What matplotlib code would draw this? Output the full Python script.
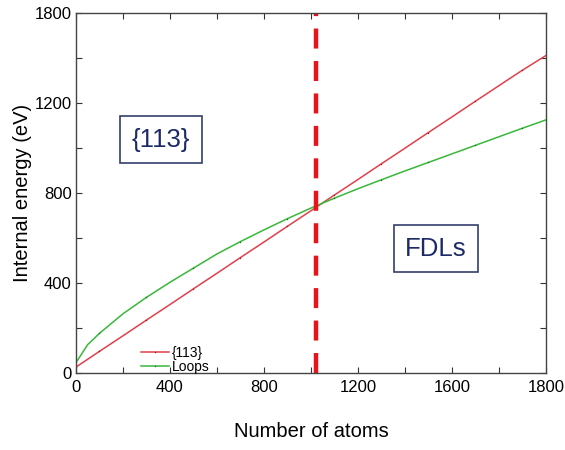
import numpy as np
import matplotlib
matplotlib.use("Agg")
import matplotlib.pyplot as plt

plt.rcParams["font.family"] = ["Liberation Sans", "DejaVu Sans"]

# ---- data ----
atoms = [0, 50, 100, 200, 300, 400, 500, 600, 700, 800, 900, 1000,
         1100, 1200, 1300, 1400, 1500, 1600, 1700, 1800, 1900, 2000]
energy_113 = [25, 60, 95, 164, 234, 303, 373, 442, 512, 581, 651, 720,
              790, 859, 929, 998, 1068, 1137, 1207, 1276, 1345, 1410]
energy_loops = [45, 125, 175, 262, 335, 402, 465, 528, 583, 635, 685, 732,
                776, 818, 858, 897, 935, 973, 1011, 1049, 1087, 1124]
crossover = 1020

xtick_pos = [0, 200, 400, 600, 800, 1000, 1200, 1400, 1600, 1800, 2000]
xtick_labels = ["0", "", "400", "", "800", "", "1200", "", "1600", "", "1800"]
ytick_pos = [0, 200, 400, 600, 800, 1000, 1200, 1400, 1600]
ytick_labels = ["0", "", "400", "", "800", "", "1200", "", "1800"]

region_labels = ["{113}", "FDLs"]
region_xy = [(361, 1037), (1533, 551)]

red = "#e2404a"
green = "#38b83a"
navy = "#1c2a66"

fig = plt.figure(figsize=(5.65, 4.5), dpi=100)
ax = fig.add_axes([0.1345, 0.1718, 0.8315, 0.7995])

ax.plot(atoms, energy_113, color=red, lw=1.1, label="{113}",
        marker=".", ms=2.0, mfc="#8a1a20", mec="none", markevery=2)
ax.plot(atoms, energy_loops, color=green, lw=1.1, label="Loops",
        marker=".", ms=2.0, mfc="#1d6a1d", mec="none", markevery=2)
ax.axvline(crossover, color="#e8141c", lw=3.2, ls=(0, (4.5, 2.8)))

for txt, (tx, ty) in zip(region_labels, region_xy):
    ax.text(tx, ty, txt, fontsize=18.5, color=navy, ha="center", va="center",
            bbox=dict(boxstyle="square,pad=0.45", fc="white", ec="#34406e",
                      lw=1.2))

ax.set_xlim(0, 2000)
ax.set_ylim(0, 1600)
ax.set_xticks(xtick_pos)
ax.set_xticklabels(xtick_labels)
ax.set_yticks(ytick_pos)
ax.set_yticklabels(ytick_labels)
ax.tick_params(direction="in", top=True, right=True, length=4,
               width=0.8, labelsize=12, colors="#333333",
               labelcolor="black")
ax.tick_params(axis="x", pad=5)
ax.tick_params(axis="y", pad=3)
for sp in ax.spines.values():
    sp.set_color("#444444")
    sp.set_linewidth(1.0)

ax.set_xlabel("Number of atoms", fontsize=14.5, labelpad=20)
ax.set_ylabel("Internal energy (eV)", fontsize=14.5, labelpad=2)

leg = ax.legend(loc="center left", bbox_to_anchor=(0.138, 0.036),
                frameon=False, fontsize=10, handlelength=2.0,
                handletextpad=0.25, labelspacing=0.0, borderpad=0.0,
                borderaxespad=0.0)

fig.savefig("out.png", dpi=100)
